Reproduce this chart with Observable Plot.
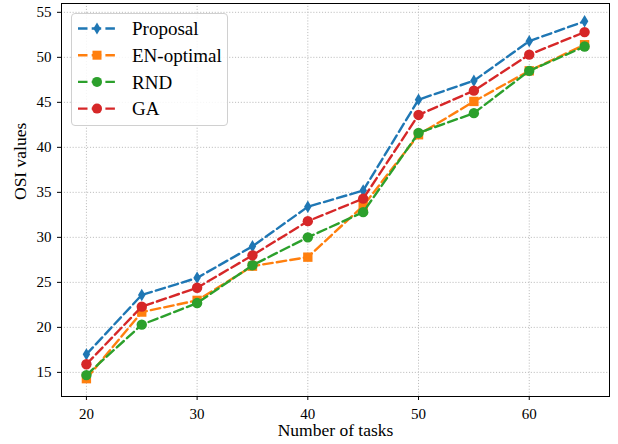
<!DOCTYPE html>
<html>
<head>
<meta charset="utf-8">
<script src="https://cdn.jsdelivr.net/npm/d3@7"></script>
<script src="https://cdn.jsdelivr.net/npm/@observablehq/plot@0.6"></script>
<style>
  html, body { margin: 0; padding: 0; background: #fff; }
  #wrap { position: relative; width: 618px; height: 444px; overflow: hidden; }
  #legend { position: absolute; left: 71px; top: 13px; width: 157px; height: 113px;
    border: 1px solid #d0d0d0; border-radius: 4px; background: rgba(255,255,255,0.85); box-sizing: border-box; }
</style>
</head>
<body>
<div id="wrap"><div id="chart"></div><div id="legend"></div></div>
<script>
const tasks = [20, 25, 30, 35, 40, 45, 50, 55, 60, 65];
const proposal  = [17.0, 23.6, 25.5, 29.0, 33.4, 35.2, 45.3, 47.4, 51.8, 54.0];
const enOptimal = [14.3, 21.7, 23.0, 26.8, 27.8, 33.5, 41.4, 45.1, 48.5, 51.4];
const rnd       = [14.7, 20.3, 22.7, 26.9, 30.0, 32.8, 41.6, 43.8, 48.5, 51.2];
const ga        = [15.9, 22.3, 24.4, 28.0, 31.8, 34.3, 43.6, 46.3, 50.3, 52.8];
const seriesNames = ["Proposal", "EN-optimal", "RND", "GA"];
const seriesValues = [proposal, enOptimal, rnd, ga];
const colors = ["#1f77b4", "#ff7f0e", "#2ca02c", "#d62728"];
const xTicks = [20, 30, 40, 50, 60];
const yTicks = [15, 20, 25, 30, 35, 40, 45, 50, 55];
const xLabel = "Number of tasks";
const yLabel = "OSI values";

const thinDiamond = { draw(ctx, size) { const r = Math.sqrt(size / Math.PI); const h = r * 1.2, w = r * 0.72;
  ctx.moveTo(0, -h); ctx.lineTo(w, 0); ctx.lineTo(0, h); ctx.lineTo(-w, 0); ctx.closePath(); } };
const square = { draw(ctx, size) { const r = Math.sqrt(size / Math.PI); const s = r * 0.9;
  ctx.moveTo(-s, -s); ctx.lineTo(s, -s); ctx.lineTo(s, s); ctx.lineTo(-s, s); ctx.closePath(); } };
const circle = d3.symbolCircle;
const symbols = [thinDiamond, square, circle, circle];

const rows = seriesNames.map((name, i) => tasks.map((t, j) => ({ series: name, tasks: t, value: seriesValues[i][j] })));

const dash = "9.5,4.2";
const seriesMarks = rows.flatMap((data, i) => [
  Plot.line(data, { x: "tasks", y: "value", stroke: colors[i], strokeWidth: 2.4, strokeDasharray: dash }),
  Plot.dot(data, { x: "tasks", y: "value", fill: colors[i], stroke: "none", r: 5.2, symbol: () => symbols[i] })
]);

const chart = Plot.plot({
  width: 618, height: 444,
  marginLeft: 61, marginRight: 9, marginTop: 3, marginBottom: 48,
  style: { fontFamily: "'Liberation Serif', 'Times New Roman', serif", color: "#000", background: "#fff" },
  x: { domain: [17.75, 67.25] },
  y: { domain: [12.32, 55.98] },
  marks: [
    Plot.gridX(xTicks, { stroke: "#bdbdbd", strokeOpacity: 1, strokeDasharray: "1.1,1.8", strokeWidth: 1 }),
    Plot.gridY(yTicks, { stroke: "#bdbdbd", strokeOpacity: 1, strokeDasharray: "1.1,1.8", strokeWidth: 1 }),
    ...seriesMarks,
    Plot.frame({ stroke: "#000", strokeWidth: 1 }),
    Plot.axisX(xTicks, { tickSize: 4, tickPadding: 8, fontSize: 15, label: null, stroke: "#000" }),
    Plot.axisY(yTicks, { tickSize: 4, tickPadding: 6, fontSize: 15, label: null, stroke: "#000" }),
    Plot.text([xLabel], { frameAnchor: "bottom", dy: 39, fontSize: 17.5, fill: "#000" }),
    Plot.text([yLabel], { frameAnchor: "left", dx: -41, rotate: -90, fontSize: 17.5, fill: "#000" })
  ]
});
document.getElementById("chart").appendChild(chart);

// Legend
const lg = d3.select("#legend").append("svg").attr("width", 155).attr("height", 111)
  .style("position", "absolute").style("left", "0px").style("top", "0px")
  .style("font-family", "'Liberation Serif', 'Times New Roman', serif");
seriesNames.forEach((name, i) => {
  const cy = 14.5 + i * 26.7;
  const g = lg.append("g");
  g.append("line").attr("x1", 6).attr("x2", 44).attr("y1", cy).attr("y2", cy)
    .attr("stroke", colors[i]).attr("stroke-width", 2.4).attr("stroke-dasharray", dash);
  g.append("path").attr("d", d3.symbol(symbols[i], Math.PI * 25)()).attr("transform", `translate(25,${cy})`).attr("fill", colors[i]);
  g.append("text").attr("x", 60).attr("y", cy).attr("dy", "0.35em").attr("font-size", 19).attr("fill", "#000").text(name);
});
</script>
</body>
</html>
